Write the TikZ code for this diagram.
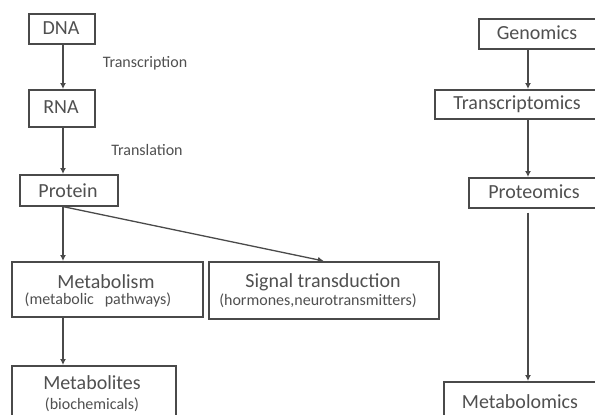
\documentclass[tikz,border=0pt]{standalone}
\usepackage{fontspec}
\setmainfont{Carlito}
\usetikzlibrary{arrows.meta}
\definecolor{txt}{HTML}{505050}
\definecolor{ln}{HTML}{4A4A4A}
\begin{document}
\begin{tikzpicture}[x=1pt,y=-1pt,
  box/.style={draw=ln,line width=1.6pt,rectangle,inner sep=0pt,anchor=north west},
  big/.style={text=txt,font=\fontsize{20}{22}\selectfont,inner sep=0pt},
  small/.style={text=txt,font=\fontsize{16}{18}\selectfont,inner sep=0pt},
  arr/.style={draw=ln,line width=1.3pt,-{Latex[length=6pt,width=6pt]}}]
\useasboundingbox (0,0) rectangle (595,415);
\fill[white] (0,0) rectangle (595,415);
\clip (0,0) rectangle (595,415);
\coordinate (lc) at (63,0);
\coordinate (rc) at (528,0);
% left column
\node[box,minimum width=66pt,minimum height=30pt] (dna) at (28,13) {};
\node[big] (dnaT) at (61,28.5) {DNA};
\node[box,minimum width=66pt,minimum height=37pt] (rna) at (28,89) {};
\node[big] (rnaT) at (61,107.5) {RNA};
\node[box,minimum width=98pt,minimum height=31pt] (prot) at (19,174) {};
\node[big] (protT) at (68,191) {Protein};
\node[small] (tscr) at (145,63) {Transcription};
\node[small] (tsl) at (147,150) {Translation};
\node[box,minimum width=191pt,minimum height=55pt] (metab) at (11,261) {};
\node[big] (metabT) at (106,282) {Metabolism};
\node[small] (metabS) at (98,300) {(metabolic\ \ \ pathways)};
\node[box,minimum width=230pt,minimum height=57pt] (sig) at (208,261) {};
\node[big] (sigT) at (323,282) {Signal transduction};
\node[small] (sigS) at (318,301) {(hormones,neurotransmitters)};
\node[box,minimum width=164pt,minimum height=70pt] (mlite) at (11,365) {};
\node[big] (mliteT) at (92,383) {Metabolites};
\node[small] (mliteS) at (92,405) {(biochemicals)};
% right column
\node[box,minimum width=122pt,minimum height=30pt] (gen) at (478,18) {};
\node[big] (genT) at (537,33) {Genomics};
\node[box,minimum width=170pt,minimum height=29pt] (trn) at (434,89) {};
\node[big] (trnT) at (517,104) {Transcriptomics};
\node[box,minimum width=140pt,minimum height=30pt] (prt) at (468,177) {};
\node[big] (prtT) at (534,192) {Proteomics};
\node[box,minimum width=160pt,minimum height=60pt] (mbl) at (443,381) {};
\node[big] (mblT) at (520,402) {Metabolomics};
% arrows
\draw[arr] (dna.south -| lc) -- (rna.north -| lc);
\draw[arr] (rna.south -| lc) -- (prot.north -| lc);
\draw[arr] (prot.south -| lc) -- (metab.north -| lc);
\draw[arr] (prot.south -| lc) -- (sig.north);
\draw[arr] (metab.south -| lc) -- (mlite.north -| lc);
\draw[arr] (gen.south -| rc) -- (trn.north -| rc);
\draw[arr] (trn.south -| rc) -- (prt.north -| rc);
\draw[arr] ([yshift=-4pt]prt.south -| rc) -- (mbl.north -| rc);
\end{tikzpicture}
\end{document}
